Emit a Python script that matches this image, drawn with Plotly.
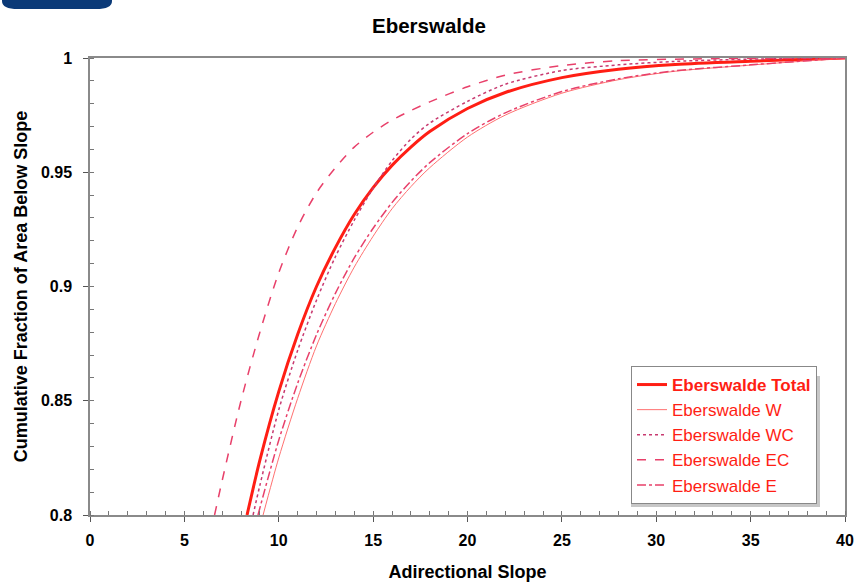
import plotly.graph_objects as go

# ---- data ----
total_x = [8.32, 9, 10, 11, 12, 13, 14, 15, 16, 17, 18, 20, 22, 25, 28, 31, 35, 40]
total_y = [0.800, 0.824, 0.854, 0.879, 0.900, 0.917, 0.9315, 0.9433, 0.953, 0.961, 0.9678,
           0.9779, 0.9849, 0.9914, 0.9951, 0.9972, 0.9986, 1.0]

w_x = [9.17, 10, 11, 12, 13, 14, 15, 16, 17, 18, 20, 22, 25, 28, 31, 35, 40]
w_y = [0.800, 0.825, 0.851, 0.874, 0.8925, 0.9085, 0.922, 0.934, 0.9437, 0.952, 0.9654,
       0.975, 0.9846, 0.9905, 0.9942, 0.9969, 1.0]

wc_x = [8.64, 9, 10, 11, 12, 13, 14, 15, 16, 17, 18, 20, 22, 25, 28, 31, 35, 40]
wc_y = [0.800, 0.813, 0.846, 0.872, 0.894, 0.913, 0.929, 0.943, 0.955, 0.9645, 0.9715,
        0.981, 0.9885, 0.9945, 0.997, 0.9985, 0.9995, 1.0]

ec_x = [6.6, 7, 8, 9, 10, 11, 12, 13, 14, 15, 16, 17, 18, 20, 22, 25, 28, 32, 36, 40]
ec_y = [0.800, 0.815, 0.850, 0.880, 0.906, 0.926, 0.941, 0.952, 0.961, 0.9675, 0.9728,
        0.977, 0.9808, 0.9874, 0.9925, 0.9967, 0.9988, 0.9996, 0.9999, 1.0]

e_x = [8.9, 10, 11, 12, 13, 14, 15, 16, 17, 18, 20, 22, 25, 28, 31, 35, 40]
e_y = [0.800, 0.8327, 0.8576, 0.8789, 0.897, 0.9125, 0.9255, 0.9367, 0.9461, 0.9542,
       0.9669, 0.976, 0.9853, 0.9909, 0.9944, 0.997, 1.0]

x_ticks = [0, 5, 10, 15, 20, 25, 30, 35, 40]
y_ticks = [0.8, 0.85, 0.9, 0.95, 1.0]
y_tick_text = ["0.8", "0.85", "0.9", "0.95", "1"]

FONT = "Liberation Sans, Arial, Helvetica, sans-serif"

fig = go.Figure()
series = [
    ("<b>Eberswalde Total</b>", total_x, total_y, "#ff1e14", 3, "solid"),
    ("Eberswalde W", w_x, w_y, "#ff7070", 1, "solid"),
    ("Eberswalde WC", wc_x, wc_y, "#c83a70", 1.5, "dot"),
    ("Eberswalde EC", ec_x, ec_y, "#e8406a", 1.5, "dash"),
    ("Eberswalde E", e_x, e_y, "#e8406a", 1.5, "dashdot"),
]
for i, (name, xs, ys, col, w, dash) in enumerate(series):
    fig.add_trace(go.Scatter(x=xs, y=ys, mode="lines", name=name, legendgroup=f"g{i}",
                             line=dict(color=col, width=w, dash=dash, shape="spline", smoothing=0.8)))

L, R, T, B = 90, 13, 58, 67
W, H = 858, 582
pw, ph = W - L - R, H - T - B

def px2x(px):
    return (px - L) / pw

def py2y(py):
    return (H - B - py) / ph

# blue decoration top-left
bx0, bx1, by0, by1 = px2x(2), px2x(112), py2y(-5), py2y(9)
r = 16 / pw
rv = 8 / ph
path = (f"M {bx0},{by0} L {bx0},{by1+rv} Q {bx0},{by1} {bx0+r},{by1} "
        f"L {bx1-r},{by1} Q {bx1},{by1} {bx1},{by1+rv} L {bx1},{by0} Z")

# legend shadow (offset down-right from the legend box)
lx0, lx1, ly0, ly1 = px2x(631), px2x(820), py2y(376), py2y(507)

fig.update_layout(
    width=W, height=H,
    margin=dict(l=L, r=R, t=T, b=B, autoexpand=False),
    paper_bgcolor="white", plot_bgcolor="white",
    font=dict(family=FONT, color="black"),
    title=dict(text="<b>Eberswalde</b>", x=0.5, xref="container", xanchor="center",
               y=1 - 26 / H, yref="container", yanchor="middle",
               font=dict(size=20.5, family=FONT, color="black")),
    xaxis=dict(range=[0, 40], tickvals=x_ticks, ticks="outside", ticklen=5, tickcolor="#555",
               showline=True, linecolor="#8a8a8a", linewidth=1.5, mirror=True,
               showgrid=False, zeroline=False, automargin=False,
               tickfont=dict(size=16, family=FONT, color="black", weight="bold"),
               ticklabelstandoff=5,
               minor=dict(dtick=1, ticks="inside", ticklen=4, tickcolor="#777", showgrid=False),
               title=dict(text="<b>Adirectional Slope</b>", font=dict(size=18, family=FONT), standoff=20)),
    yaxis=dict(range=[0.8, 1.0], tickvals=y_ticks, ticktext=y_tick_text, ticks="outside", ticklen=5,
               tickcolor="#555",
               showline=True, linecolor="#8a8a8a", linewidth=1.5, mirror=True,
               showgrid=False, zeroline=False, automargin=False,
               tickfont=dict(size=16, family=FONT, color="black", weight="bold"),
               ticklabelstandoff=8,
               minor=dict(dtick=0.01, ticks="inside", ticklen=4, tickcolor="#777", showgrid=False),
               title=dict(text="<b>Cumulative Fraction of Area Below Slope</b>",
                          font=dict(size=18, family=FONT), standoff=9)),
    legend=dict(x=px2x(817), y=py2y(504), xanchor="right", yanchor="bottom",
                bgcolor="white", bordercolor="#888", borderwidth=1,
                font=dict(size=17, family=FONT, color="#ff1e14"),
                tracegroupgap=0, itemwidth=30),
    shapes=[
        dict(type="path", path=path, xref="paper", yref="paper",
             fillcolor="#0b3a78", line=dict(width=0), layer="above"),
        dict(type="rect", x0=lx0, x1=lx1, y0=ly1, y1=ly0, xref="paper", yref="paper",
             fillcolor="rgba(0,0,0,0.22)", line=dict(width=0), layer="above"),
    ],
    showlegend=True,
)

fig.write_html("out.html")
